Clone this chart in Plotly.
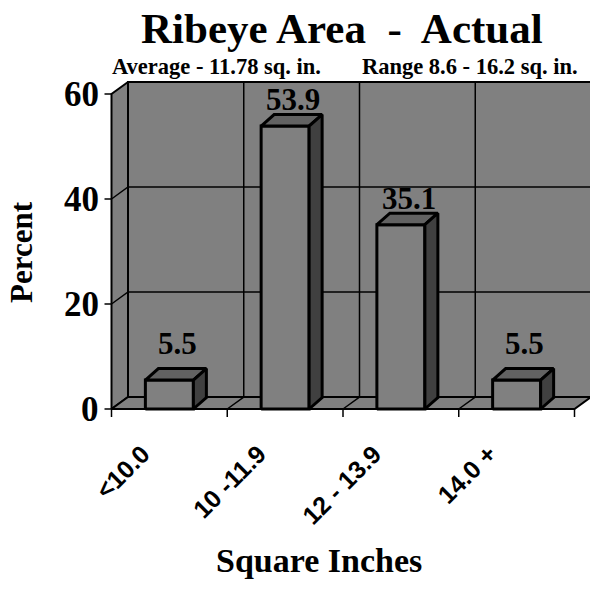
import plotly.graph_objects as go

# ---- data -------------------------------------------------------------
categories = ["<10.0", "10 -11.9", "12 - 13.9", "14.0 +"]
percent = [5.5, 53.9, 35.1, 5.5]
y_ticks = [0, 20, 40, 60]
y_max = 60

title = "Ribeye Area  -  Actual"
subtitle_left = "Average - 11.78 sq. in."
subtitle_right = "Range 8.6 - 16.2 sq. in."
x_title = "Square Inches"
y_title = "Percent"

# ---- 3-D look (offsets in data units) ----------------------------------
PX_PER_X = 115.75           # pixels per category
PX_PER_Y = 5.25             # pixels per percent
X_ORIGIN_PX, Y_ORIGIN_PX = 111.5, 409
DX, DY = 16.5 / PX_PER_X, 12 / PX_PER_Y       # wall / floor depth
BDX, BDY = 13 / PX_PER_X, 11.5 / PX_PER_Y     # bar depth
HALF = 24 / PX_PER_X                          # half width of a bar face

WALL = "#808080"
FRONT = "#808080"
TOP = "#626262"
SIDE = "#404040"
SERIF = "Liberation Serif, Times New Roman, serif"
SANS = "Liberation Sans, Arial, sans-serif"

fig = go.Figure()


def poly(xs, ys, fill, width=2.0):
    fig.add_trace(go.Scatter(
        x=xs + [xs[0]], y=ys + [ys[0]], mode="lines", fill="toself",
        fillcolor=fill, line=dict(color="black", width=width),
        hoverinfo="skip", showlegend=False))


def seg(xs, ys, width=1.5):
    fig.add_trace(go.Scatter(
        x=xs, y=ys, mode="lines", line=dict(color="black", width=width),
        hoverinfo="skip", showlegend=False))


n = len(categories)

# walls and floor
poly([DX, n + DX, n + DX, DX], [DY, DY, y_max + DY, y_max + DY], WALL)
poly([0, DX, DX, 0], [0, DY, y_max + DY, y_max], WALL)
poly([0, n, n + DX, DX], [0, 0, DY, DY], WALL)

# gridlines on side wall + back wall
for t in y_ticks[1:-1]:
    seg([0, DX, n + DX], [t, t + DY, t + DY])
# category dividers on floor + back wall
for i in range(1, n):
    seg([i, i + DX, i + DX], [0, DY, y_max + DY])

# tick marks
tick_x = 7 / PX_PER_X
tick_y = 8 / PX_PER_Y
for t in y_ticks:
    seg([-tick_x, 0], [t, t], 1.5)
for i in range(n + 1):
    seg([i, i], [0, -tick_y], 1.5)

# bars
for i, v in enumerate(percent):
    c = i + 0.5
    x0, x1 = c - HALF, c + HALF
    poly([x0, x1, x1, x0], [0, 0, v, v], FRONT, 3)
    poly([x0, x1, x1 + BDX, x0 + BDX], [v, v, v + BDY, v + BDY], TOP, 3)
    poly([x1, x1 + BDX, x1 + BDX, x1], [0, BDY, v + BDY, v], SIDE, 3)

annotations = []

# value labels
for i, v in enumerate(percent):
    annotations.append(dict(
        x=i + 0.5 + 8 / PX_PER_X, y=max(v + 5, 12.5), xref="x", yref="y",
        text=f"<b>{v}</b>", showarrow=False, xanchor="center", yanchor="middle",
        font=dict(family=SERIF, size=31, color="black")))

# y tick labels
for t in y_ticks:
    annotations.append(dict(
        x=-11 / PX_PER_X, y=t, xref="x", yref="y", text=f"<b>{t}</b>",
        showarrow=False, xanchor="right", yanchor="middle",
        font=dict(family=SERIF, size=35, color="black")))

# category labels
for i, cat in enumerate(categories):
    annotations.append(dict(
        x=i + 0.5 - 12 / PX_PER_X, y=-28 / PX_PER_Y, xref="x", yref="y",
        text=f"<b>{cat}</b>", showarrow=False, textangle=-45,
        xanchor="right", yanchor="top",
        font=dict(family=SANS, size=25, color="black")))

W = H = 590
annotations += [
    dict(x=342 / W, y=1 - 28 / H, xref="paper", yref="paper",
         text=f"<b>{title}</b>", showarrow=False, xanchor="center", yanchor="middle",
         font=dict(family=SERIF, size=43, color="black")),
    dict(x=217 / W, y=1 - 67 / H, xref="paper", yref="paper",
         text=f"<b>{subtitle_left}</b>", showarrow=False, xanchor="center", yanchor="middle",
         font=dict(family=SERIF, size=22.5, color="black")),
    dict(x=470 / W, y=1 - 67 / H, xref="paper", yref="paper",
         text=f"<b>{subtitle_right}</b>", showarrow=False, xanchor="center", yanchor="middle",
         font=dict(family=SERIF, size=22.5, color="black")),
    dict(x=319 / W, y=1 - 560 / H, xref="paper", yref="paper",
         text=f"<b>{x_title}</b>", showarrow=False, xanchor="center", yanchor="middle",
         font=dict(family=SERIF, size=34, color="black")),
    dict(x=22 / W, y=1 - 252 / H, xref="paper", yref="paper",
         text=f"<b>{y_title}</b>", showarrow=False, textangle=-90,
         xanchor="center", yanchor="middle",
         font=dict(family=SERIF, size=31, color="black")),
]

fig.update_layout(
    width=W, height=H, autosize=False,
    margin=dict(l=0, r=0, t=0, b=0),
    paper_bgcolor="white", plot_bgcolor="white",
    xaxis=dict(visible=False, range=[-X_ORIGIN_PX / PX_PER_X, (W - X_ORIGIN_PX) / PX_PER_X],
               fixedrange=True),
    yaxis=dict(visible=False, range=[-(H - Y_ORIGIN_PX) / PX_PER_Y, Y_ORIGIN_PX / PX_PER_Y],
               fixedrange=True),
    annotations=annotations,
    showlegend=False,
)

fig.write_html("out.html")
